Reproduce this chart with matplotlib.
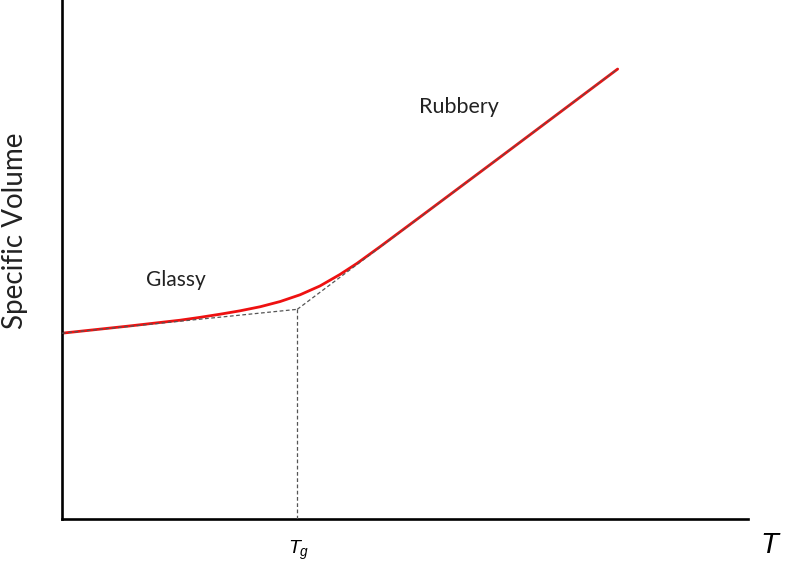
import matplotlib
matplotlib.use("Agg")
import matplotlib.pyplot as plt

plt.rcParams["mathtext.fontset"] = "custom"
plt.rcParams["mathtext.it"] = "Liberation Sans:italic"
plt.rcParams["mathtext.rm"] = "Liberation Sans"

curve_T = [0.0, 9.9, 17.2, 20.1, 23.0, 25.9, 28.9, 31.8, 34.7, 37.6, 40.5, 43.0, 46.4, 52.2, 63.8, 81.0]
curve_V = [35.8, 37.2, 38.3, 38.85, 39.45, 40.1, 40.9, 41.9, 43.2, 44.9, 47.1, 49.25, 52.5, 58.2, 69.65, 86.7]

# dashed asymptotes meeting at Tg
glassy_T = [0.0, 34.3]
glassy_V = [35.8, 40.4]
rubbery_T = [34.3, 81.0]
rubbery_V = [40.4, 86.7]
tg = 34.3
tg_V = 40.4

W, H = 811, 567
fig = plt.figure(figsize=(W / 100, H / 100), dpi=100)
ax = fig.add_axes([62 / W, 48 / H, 686 / W, 519 / H])
ax.set_xlim(0, 100)
ax.set_ylim(0, 100)

dash = dict(color="#555555", ls=(0, (3, 2)), lw=0.9, zorder=3)
ax.plot(glassy_T, glassy_V, **dash)
ax.plot(rubbery_T, rubbery_V, **dash)
ax.plot([tg, tg], [0, tg_V], **dash)
ax.plot(curve_T, curve_V, color="#ee1111", lw=2.0, zorder=2, solid_capstyle="round",
        solid_joinstyle="round")

for s in ("top", "right"):
    ax.spines[s].set_visible(False)
for s in ("left", "bottom"):
    ax.spines[s].set_linewidth(1.9)
    ax.spines[s].set_color("black")
ax.set_xticks([])
ax.set_yticks([])

ax.text(16.6, 46.1, "Glassy", fontsize=15, family="Lato", ha="center", va="center", color="#222222")
ax.text(57.9, 79.4, "Rubbery", fontsize=15.5, family="Lato", ha="center", va="center", color="#222222")

fig.text(15 / W, 1 - 231 / H, "Specific Volume", rotation=90, fontsize=20, family="Lato",
         ha="center", va="center", color="#222222")
fig.text(299 / W, 1 - 550 / H, r"$T_g$", fontsize=14, ha="center", va="center")
fig.text(771 / W, 1 - 545 / H, r"$T$", fontsize=21, ha="center", va="center")

fig.savefig("out.png", dpi=100)
